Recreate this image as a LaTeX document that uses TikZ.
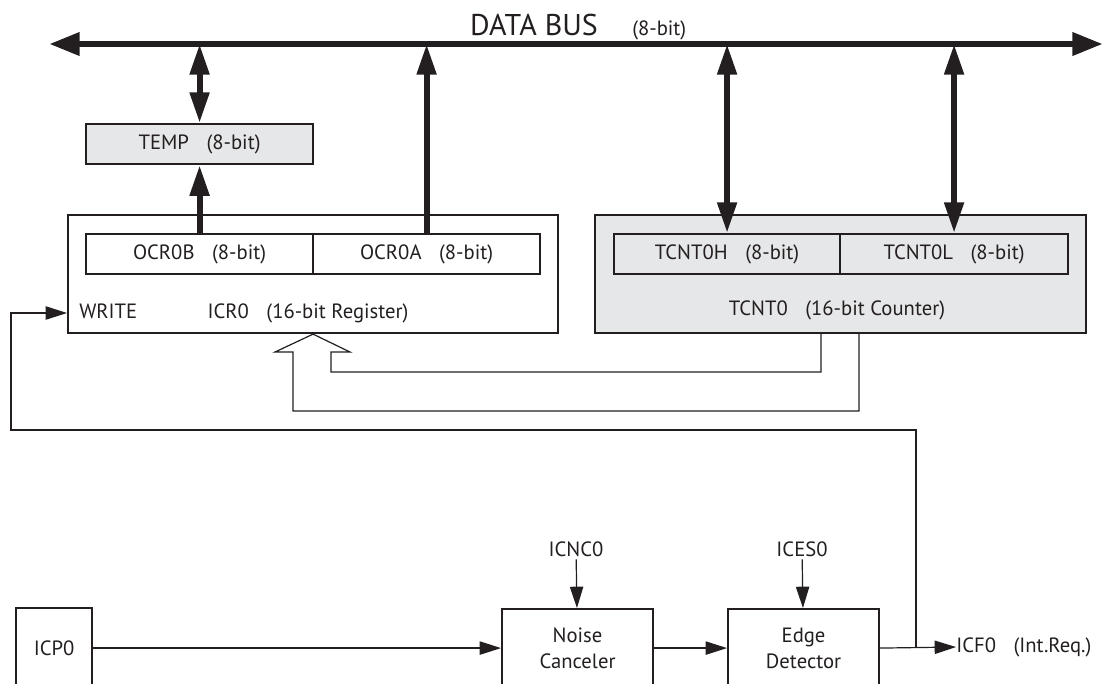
\documentclass[tikz,border=0pt]{standalone}
\usepackage{fontspec}
\setmainfont{PT Sans}
\usetikzlibrary{arrows.meta}
\definecolor{ink}{HTML}{231F20}
\definecolor{regfill}{HTML}{E6E7E8}
\newcommand{\lblsep}{\hspace{0.85em}}
\begin{document}
\begin{tikzpicture}[x=0.75pt,y=-0.75pt,
  every node/.style={font=\fontsize{15.5}{19.5}\selectfont, text=ink},
  box/.style={draw=ink, line width=1.6pt, inner sep=0pt, anchor=north west},
  gbox/.style={box, fill=regfill},
  conn/.style={draw=ink, line width=0.9pt},
  thinarr/.style={conn, -{Triangle[length=16pt,width=10pt]}},
  busline/.style={draw=ink, line width=5pt, {Triangle[length=23pt,width=16.5pt]}-{Triangle[length=23pt,width=16.5pt]}},
  fat/.style={draw=ink, line width=4.5pt},
  fatarr/.style={fat, -{Triangle[length=23pt,width=14pt]}},
  fatdbl/.style={fat, {Triangle[length=23pt,width=14pt]}-{Triangle[length=23pt,width=14pt]}},
  lbl/.style={inner sep=0pt}
]
\useasboundingbox (0,0) rectangle (1112,683);
\clip (0,0) rectangle (1112,683);

% data bus
\coordinate (busL) at (49,44);
\coordinate (busR) at (1103,44);
\node[lbl, font=\fontsize{22.5}{25}\selectfont, anchor=base] (dbus) at (534,35) {DATA BUS};
\node[lbl, anchor=base west] (dbw) at (632,35) {(8-bit)};

% registers
\node[gbox, minimum width=170.25pt, minimum height=30pt] (temp) at (85,123) {TEMP\lblsep(8-bit)};
\node[box, minimum width=367.5pt, minimum height=88.5pt] (icr) at (67,214) {};
\node[box, minimum width=170.25pt, minimum height=30pt] (ocrb) at (85,233) {OCR0B\lblsep(8-bit)};
\node[box, minimum width=170.25pt, minimum height=30pt] (ocra) at (312,233) {OCR0A\lblsep(8-bit)};
\node[lbl, anchor=base west] (write) at (79,318) {WRITE};
\node[lbl, anchor=base] (icrlbl) at (308,318) {ICR0\lblsep(16-bit Register)};

\node[gbox, minimum width=368.25pt, minimum height=88.5pt] (tcnt) at (594,214) {};
\node[gbox, minimum width=169.5pt, minimum height=30pt] (tcnth) at (613,233) {TCNT0H\lblsep(8-bit)};
\node[gbox, minimum width=171pt, minimum height=30pt] (tcntl) at (839,233) {TCNT0L\lblsep(8-bit)};
\node[lbl, anchor=base] (tcntlbl) at (837,315) {TCNT0\lblsep(16-bit Counter)};

% bottom blocks
\node[box, minimum width=57pt, minimum height=60pt] (icp) at (15,607) {ICP0};
\node[box, minimum width=113.25pt, minimum height=58.5pt, align=center] (noise) at (501,608) {Noise\\Canceler};
\node[box, minimum width=113.25pt, minimum height=58.5pt, align=center] (edge) at (727,608) {Edge\\Detector};
\node[inner sep=2pt] (icnc) at (576,549) {ICNC0};
\node[inner sep=2pt] (ices) at (802,549) {ICES0};
\node[lbl, anchor=west] (icf) at (956,647) {ICF0\lblsep(Int.Req.)};

% bus and thick arrows
\draw[busline] (busL) -- (busR);
\draw[fatdbl] (temp.north) -- (temp.north |- busL);
\draw[fatarr] (ocrb.north) -- (temp.south);
\draw[fatarr] (ocra.north) -- (ocra.north |- busL);
\draw[fatdbl] (tcnth.north) -- (tcnth.north |- busL);
\draw[fatdbl] (tcntl.north) -- (tcntl.north |- busL);

% hollow transfer arrow TCNT0 -> ICR0
\draw[conn, line join=miter] (821,0 |- tcnt.south) -- (821,372) -- (331,372) -- (331,352) -- (350,352)
  -- (icr.south) -- (275,352) -- (293,352) -- (293,411) -- (859,411) -- (859,0 |- tcnt.south);

% signal path
\coordinate (j) at (916,647);
\coordinate (fb) at (11,430);
\coordinate (wr) at (11,313);
\draw[thinarr] (icp) -- (noise);
\draw[thinarr] (noise) -- (edge);
\draw[thinarr] (edge.east) -- (icf.west);
\draw[thinarr] (icnc) -- (noise);
\draw[thinarr] (ices) -- (edge);
\draw[thinarr] (j) |- (fb) -- (wr) -- (wr -| icr.west);
\end{tikzpicture}
\end{document}
